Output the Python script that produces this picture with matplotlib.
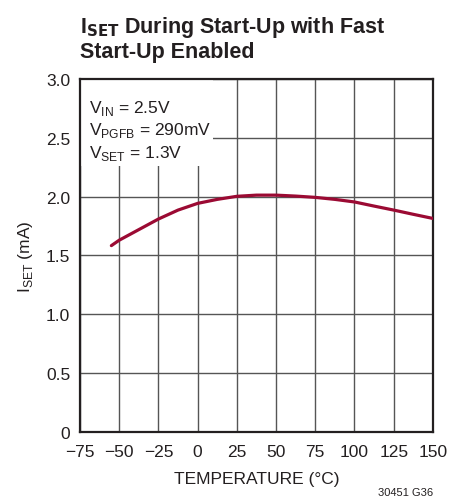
import numpy as np
import matplotlib.pyplot as plt
from matplotlib.patches import Rectangle

# Data
temp = [-55, -50, -37.5, -25, -12.5, 0, 12.5, 25, 37.5, 50, 62.5, 75, 87.5, 100, 112.5, 125, 137.5, 150]
iset = [1.584, 1.63, 1.72, 1.81, 1.886, 1.943, 1.977, 2.003, 2.013, 2.013, 2.005, 1.994, 1.977,
        1.955, 1.92, 1.886, 1.85, 1.815]
xticks = [-75, -50, -25, 0, 25, 50, 75, 100, 125, 150]
yticks = [0, 0.5, 1.0, 1.5, 2.0, 2.5, 3.0]
ytick_labels = ['0', '0.5', '1.0', '1.5', '2.0', '2.5', '3.0']
conditions = [r'V$_{\mathregular{IN}}$ = 2.5V',
              r'V$_{\mathregular{PGFB}}$ = 290mV',
              r'V$_{\mathregular{SET}}$ = 1.3V']

plt.rcParams['font.family'] = ['Liberation Sans', 'DejaVu Sans']

fig = plt.figure(figsize=(4.63, 5.02), dpi=100)
ax = fig.add_axes([0.1728, 0.1375, 0.7622, 0.7031])

ax.plot(temp, iset, color='#9b0a33', linewidth=2.3, solid_capstyle='round', zorder=3)

ax.set_xlim(-75, 150)
ax.set_ylim(0, 3.0)
ax.set_xticks(xticks)
ax.set_yticks(yticks)
ax.set_yticklabels(ytick_labels)
ax.tick_params(axis='x', length=0, labelsize=12.5, pad=8.5, colors='#231f20')
ax.tick_params(axis='y', length=0, labelsize=12.5, pad=7, colors='#231f20')
ax.grid(True, color='#555555', linewidth=1.0)
for s in ax.spines.values():
    s.set_linewidth(1.6)
    s.set_color('#231f20')

# white box behind the conditions text
ax.add_patch(Rectangle((-75, 2.26), 85.0, 0.74, facecolor='white', edgecolor='none', zorder=2))
for i, t in enumerate(conditions):
    ax.text(-69, 2.72 - i * 0.19, t, fontsize=12.5, color='#231f20', zorder=4, va='baseline')

ax.set_xlabel('TEMPERATURE (°C)', fontsize=12.5, color='#231f20', labelpad=9)
ax.set_ylabel(r'I$_{\mathregular{SET}}$ (mA)', fontsize=12.5, color='#231f20', labelpad=8)

fig.text(0.1728, 0.934, r'I$_{\mathbf{SET}}$ During Start-Up with Fast', fontsize=15.5,
         fontweight='bold', color='#231f20', va='baseline')
fig.text(0.1728, 0.884, 'Start-Up Enabled', fontsize=15.5, fontweight='bold',
         color='#231f20', va='baseline')
fig.text(0.935, 0.012, '30451 G36', fontsize=8, color='#231f20', ha='right')

fig.savefig('out.png', dpi=100)
